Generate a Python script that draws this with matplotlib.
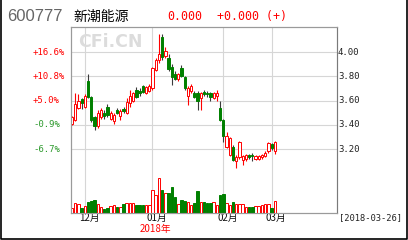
import numpy as np
import matplotlib
matplotlib.use('Agg')
import matplotlib.pyplot as plt
import matplotlib.transforms as mtransforms
from matplotlib.lines import Line2D

# daily k-line, 2017-11-27 .. 2018-03-02
opens  = [3.41, 3.44, 3.54, 3.61, 3.55, 3.76, 3.63, 3.46, 3.39, 3.46,
          3.50, 3.55, 3.45, 3.43, 3.52, 3.47, 3.53, 3.50, 3.58, 3.60,
          3.69, 3.68, 3.72, 3.66, 3.68, 3.70, 3.85, 3.93, 4.12, 3.97,
          3.95, 3.88, 3.82, 3.78, 3.87, 3.79, 3.64, 3.68, 3.66, 3.66,
          3.62, 3.67, 3.66, 3.66, 3.62, 3.64, 3.54, 3.44, 3.22, 3.15,
          3.22, 3.10, 3.13, 3.11, 3.12, 3.15, 3.15, 3.12, 3.12, 3.13,
          3.14, 3.18, 3.24, 3.18]
highs  = [3.47, 3.66, 3.65, 3.62, 3.65, 3.82, 3.64, 3.47, 3.52, 3.54,
          3.52, 3.57, 3.51, 3.50, 3.54, 3.53, 3.55, 3.62, 3.69, 3.67,
          3.71, 3.70, 3.73, 3.72, 3.74, 3.88, 3.95, 4.15, 4.15, 4.04,
          3.98, 3.90, 3.84, 3.83, 3.89, 3.80, 3.72, 3.74, 3.68, 3.68,
          3.67, 3.69, 3.68, 3.67, 3.67, 3.69, 3.60, 3.45, 3.34, 3.30,
          3.23, 3.15, 3.27, 3.15, 3.16, 3.16, 3.17, 3.15, 3.15, 3.16,
          3.18, 3.26, 3.25, 3.27]
lows   = [3.40, 3.43, 3.53, 3.53, 3.54, 3.62, 3.42, 3.36, 3.37, 3.45,
          3.45, 3.46, 3.44, 3.41, 3.49, 3.44, 3.50, 3.49, 3.55, 3.59,
          3.62, 3.64, 3.66, 3.65, 3.67, 3.69, 3.84, 3.91, 3.93, 3.95,
          3.84, 3.73, 3.77, 3.76, 3.79, 3.69, 3.56, 3.66, 3.62, 3.52,
          3.52, 3.64, 3.63, 3.60, 3.61, 3.60, 3.43, 3.26, 3.21, 3.14,
          3.10, 3.04, 3.12, 3.07, 3.10, 3.12, 3.10, 3.11, 3.11, 3.12,
          3.13, 3.17, 3.19, 3.16]
closes = [3.46, 3.57, 3.60, 3.58, 3.64, 3.63, 3.44, 3.39, 3.50, 3.52,
          3.47, 3.48, 3.50, 3.48, 3.50, 3.51, 3.51, 3.59, 3.64, 3.66,
          3.63, 3.66, 3.67, 3.71, 3.72, 3.87, 3.93, 3.98, 3.96, 4.01,
          3.86, 3.79, 3.78, 3.82, 3.80, 3.70, 3.70, 3.72, 3.63, 3.60,
          3.66, 3.65, 3.65, 3.63, 3.66, 3.66, 3.44, 3.31, 3.31, 3.29,
          3.11, 3.13, 3.26, 3.14, 3.15, 3.13, 3.14, 3.14, 3.14, 3.15,
          3.17, 3.25, 3.21, 3.26]
volumes = [5, 10, 9, 5, 7, 11, 12, 13, 9, 6,
           4, 5, 7, 8, 6, 6, 9, 10, 10, 10,
           8, 8, 8, 8, 8, 23, 18, 35, 23, 20,
           20, 26, 16, 9, 13, 12, 11, 8, 10, 22,
           11, 11, 10, 10, 11, 8, 18, 19, 10, 8,
           11, 9, 9, 9, 6, 6, 6, 7, 7, 8,
           9, 9, 5, 12]

month_idx = [4, 25, 47, 62]
month_lab = ['12月', '01月', '02月', '03月']
year_lab = '2018年'
price_ticks = [4.00, 3.80, 3.60, 3.40, 3.20]
pct_labels = ['+16.6%', '+10.8%', '+5.0%', '-0.9%', '-6.7%']
code = '600777'
name = '新潮能源'
last_price = '0.000'
last_change = '+0.000 (+)'
date_label = '[2018-03-26]'
watermark = 'CFi.CN'

RED = '#ff0000'
GREEN = '#008000'
CJK = ['Noto Sans CJK SC', 'DejaVu Sans']
MONO = 'DejaVu Sans Mono'

W, H = 408, 240
fig = plt.figure(figsize=(W / 100, H / 100), dpi=100)
ax = fig.add_axes([71 / W, 1 - 213 / H, 266 / W, 186 / H])

o = np.array(opens); c = np.array(closes)
hi = np.array(highs); lo = np.array(lows)
x = np.arange(len(o))
up = c >= o

ax.set_xlim(-0.31, 82.3)
ax.set_ylim(2.6722, 4.2062)

# grid
for p in price_ticks:
    ax.axhline(p, color='#d6d6d6', lw=0.8, zorder=0)
for m in month_idx:
    ax.axvline(m, color='#d6d6d6', lw=0.8, zorder=0)

# wicks
ax.vlines(x[up], lo[up], np.minimum(o, c)[up], color=RED, lw=0.8, zorder=2)
ax.vlines(x[up], np.maximum(o, c)[up], hi[up], color=RED, lw=0.8, zorder=2)
ax.vlines(x[~up], lo[~up], hi[~up], color='#3a3a3a', lw=0.8, zorder=2)

# bodies
body = np.maximum(np.abs(c - o), 0.004)
ax.bar(x[up], body[up], bottom=np.minimum(o, c)[up], width=0.7,
       facecolor='white', edgecolor=RED, lw=0.7, zorder=3)
ax.bar(x[~up], body[~up], bottom=np.minimum(o, c)[~up], width=0.7,
       facecolor=GREEN, edgecolor=GREEN, lw=0.7, zorder=3)

# volume
ax2 = ax.twinx()
ax2.set_ylim(0, 186)
v = np.array(volumes)
ax2.bar(x[up], v[up], width=0.78, facecolor='white', edgecolor=RED, lw=0.7)
ax2.bar(x[~up], v[~up], width=0.78, facecolor=GREEN, edgecolor=GREEN, lw=0.7)

for a in (ax, ax2):
    a.set_xticks([])
    a.set_yticks([])
    for s in a.spines.values():
        s.set_color('#9a9a9a')
        s.set_linewidth(0.8)
ax2.spines['right'].set_color('#7a7a7a')

# price labels
tr = mtransforms.blended_transform_factory(fig.transFigure, ax.transData)
for p, lab in zip(price_ticks, pct_labels):
    col = RED if lab.startswith('+') else '#2e9a2e'
    ax.text(33 / W, p, lab, transform=tr, ha='left', va='center',
            family=MONO, fontsize=6.5, color=col)
    ax.text(338 / W, p, f'{p:.2f}', transform=tr, ha='left', va='center',
            family=MONO, fontsize=6.5, color='#222222')

# month labels
bt = mtransforms.blended_transform_factory(ax.transData, ax.transAxes)
mt = mtransforms.offset_copy(bt, fig=fig, x=-6, y=0, units='dots')
for m, lab in zip(month_idx, month_lab):
    ax.text(m, -0.027, lab, transform=mt, ha='left', va='center',
            family=CJK, fontsize=7, color='#111111', clip_on=False)
yt = mtransforms.offset_copy(bt, fig=fig, x=3, y=0, units='dots')
ax.text(month_idx[1], -0.086, year_lab, transform=yt, ha='center', va='center',
        family=CJK, fontsize=7, color=RED, clip_on=False)
fig.text(339 / W, 1 - 218 / H, date_label, ha='left', va='center',
         family=MONO, fontsize=6.3, color='#222222')

# header
fig.text(7 / W, 1 - 16.5 / H, code, ha='left', va='center',
         family='Liberation Sans', fontsize=12, color='#666666')
fig.text(73 / W, 1 - 16.5 / H, name, ha='left', va='center',
         family=CJK, fontsize=10, color='black')
fig.text(167 / W, 1 - 16.5 / H, last_price, ha='left', va='center',
         family=MONO, fontsize=8.4, color=RED)
fig.text(217 / W, 1 - 16.5 / H, last_change, ha='left', va='center',
         family=MONO, fontsize=8.4, color=RED)

ax.text(78 / W, 1 - 42 / H, watermark, transform=fig.transFigure,
        ha='left', va='center', family='DejaVu Sans', fontweight='bold',
        fontsize=12.5, color='#dcdcdc', zorder=0.5)

# outer border (left, bottom, right)
fig.add_artist(Line2D([0.6 / W, 0.6 / W, 406.5 / W, 406.5 / W],
                      [1.0, 1 - 238.5 / H, 1 - 238.5 / H, 1.0],
                      transform=fig.transFigure, color='black', lw=1.2))

fig.savefig('out.png', dpi=100)
